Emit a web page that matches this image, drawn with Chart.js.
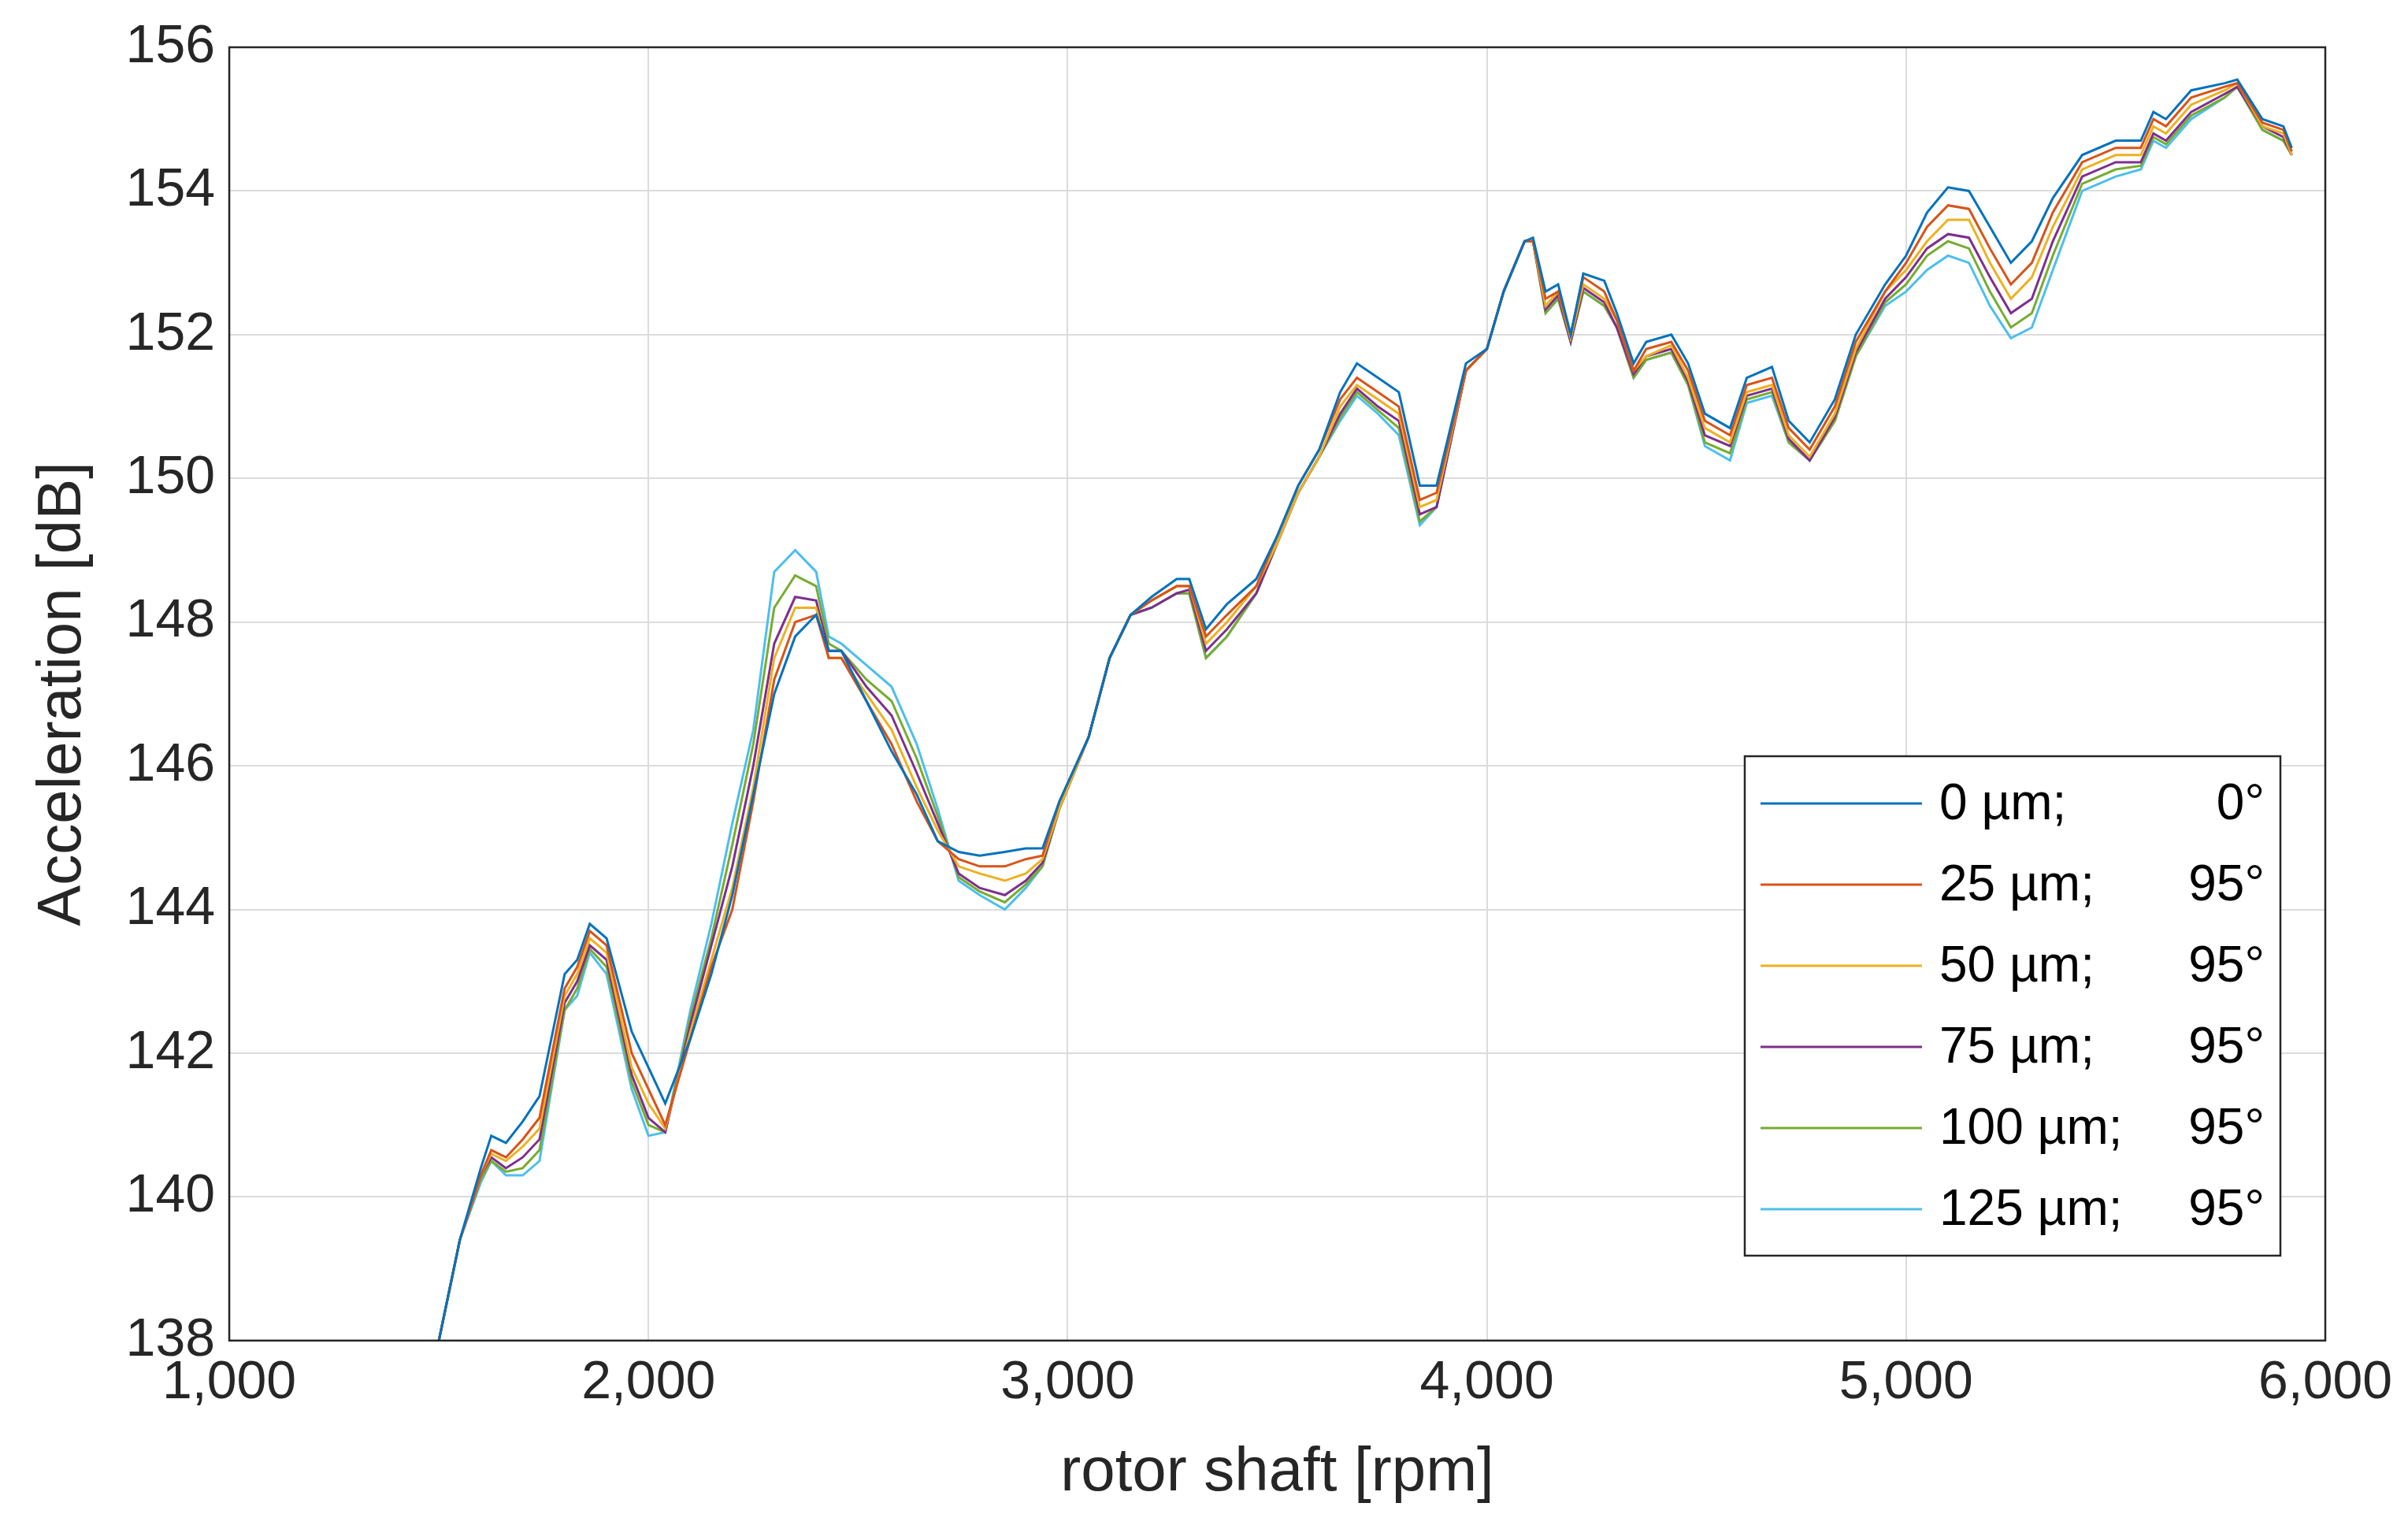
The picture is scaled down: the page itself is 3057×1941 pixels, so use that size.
<!DOCTYPE html>
<html>
<head>
<meta charset="utf-8">
<script src="https://cdn.jsdelivr.net/npm/chart.js@4"></script>
<style>
html,body{margin:0;padding:0;background:#fff}
#wrap{width:3057px;height:1941px}
</style>
</head>
<body>
<div id="wrap"><canvas id="myChart" width="3057" height="1941"></canvas></div>
<script>
// rotor shaft speed [rpm], shared by all series
const rpm = [1500,1550,1600,1625,1660,1700,1740,1800,1830,1860,1900,1960,2000,2040,2100,2150,2200,2250,2300,2350,
  2400,2430,2460,2520,2580,2640,2690,2740,2790,2850,2900,2940,2980,3050,3100,3150,3200,3260,3290,3330,
  3380,3450,3500,3550,3600,3650,3690,3740,3790,3840,3880,3950,4000,4040,4090,4110,4140,4170,4200,4230,
  4280,4310,4350,4380,4440,4480,4520,4580,4620,4680,4720,4770,4830,4880,4950,5000,5050,5100,5150,5200,
  5250,5300,5350,5420,5500,5560,5590,5620,5680,5760,5790,5850,5900,5920]

const labels = ["0 µm;0°","25 µm;95°","50 µm;95°","75 µm;95°","100 µm;95°","125 µm;95°"]
const colors = ["#0072BD","#D95319","#EDB120","#7E2F8E","#77AC30","#4DBEEE"]

const s0 = [138.0,139.4,140.4,140.85,140.75,141.05,141.4,143.1,143.3,143.8,143.6,142.3,141.8,141.3,142.2,143.1,144.2,145.6,147.0,147.8,
  148.1,147.6,147.6,146.9,146.2,145.6,144.95,144.8,144.75,144.8,144.85,144.85,145.5,146.4,147.5,148.1,148.35,148.6,148.6,147.9,
  148.25,148.6,149.2,149.9,150.4,151.2,151.6,151.4,151.2,149.9,149.9,151.6,151.8,152.6,153.3,153.35,152.6,152.7,152.0,152.85,
  152.75,152.3,151.6,151.9,152.0,151.6,150.9,150.7,151.4,151.55,150.8,150.5,151.1,152.0,152.7,153.1,153.7,154.05,154.0,153.5,
  153.0,153.3,153.9,154.5,154.7,154.7,155.1,155.0,155.4,155.5,155.55,155.0,154.9,154.6]
const s25 = [138.0,139.4,140.3,140.65,140.55,140.8,141.1,142.9,143.2,143.7,143.5,142.0,141.5,141.0,142.2,143.2,144.0,145.5,147.2,148.0,
  148.1,147.5,147.5,146.9,146.3,145.5,144.95,144.7,144.6,144.6,144.7,144.75,145.5,146.4,147.5,148.1,148.3,148.5,148.5,147.8,
  148.1,148.5,149.2,149.9,150.4,151.1,151.4,151.2,151.0,149.7,149.8,151.5,151.8,152.6,153.3,153.3,152.5,152.6,152.0,152.8,
  152.6,152.2,151.5,151.8,151.9,151.5,150.8,150.6,151.3,151.4,150.7,150.4,151.0,151.9,152.6,153.0,153.5,153.8,153.75,153.2,
  152.7,153.0,153.7,154.4,154.6,154.6,155.0,154.9,155.3,155.45,155.5,154.95,154.85,154.55]
const s50 = [138.0,139.4,140.3,140.6,140.5,140.7,140.95,142.8,143.1,143.6,143.4,141.8,141.3,140.95,142.3,143.3,144.3,145.7,147.5,148.2,
  148.2,147.5,147.5,147.0,146.5,145.7,145.1,144.6,144.5,144.4,144.5,144.7,145.4,146.4,147.5,148.1,148.3,148.5,148.5,147.7,
  148.0,148.5,149.1,149.8,150.3,151.0,151.3,151.1,150.9,149.6,149.7,151.5,151.8,152.6,153.3,153.3,152.4,152.6,151.95,152.7,
  152.5,152.2,151.5,151.7,151.85,151.4,150.7,150.5,151.2,151.3,150.6,150.3,150.9,151.8,152.6,152.9,153.3,153.6,153.6,153.0,
  152.5,152.8,153.5,154.3,154.5,154.5,154.9,154.8,155.2,155.4,155.5,154.9,154.8,154.5]
const s75 = [138.0,139.4,140.3,140.55,140.4,140.55,140.8,142.7,143.0,143.5,143.3,141.7,141.1,140.9,142.4,143.5,144.6,146.0,147.7,148.35,
  148.3,147.6,147.6,147.1,146.7,145.9,145.2,144.5,144.3,144.2,144.4,144.65,145.4,146.4,147.5,148.1,148.2,148.4,148.45,147.6,
  147.9,148.4,149.1,149.8,150.3,150.9,151.25,151.0,150.8,149.5,149.6,151.5,151.8,152.6,153.3,153.3,152.35,152.55,151.9,152.65,
  152.45,152.1,151.45,151.7,151.8,151.35,150.6,150.45,151.15,151.25,150.55,150.25,150.85,151.75,152.5,152.8,153.2,153.4,153.35,152.8,
  152.3,152.5,153.3,154.2,154.4,154.4,154.8,154.7,155.1,155.35,155.45,154.9,154.75,154.5]
const s100 = [138.0,139.4,140.25,140.5,140.35,140.4,140.65,142.6,142.9,143.45,143.2,141.6,141.0,140.9,142.5,143.6,144.9,146.3,148.2,148.65,
  148.5,147.7,147.6,147.2,146.9,146.1,145.3,144.45,144.25,144.1,144.35,144.6,145.4,146.4,147.5,148.1,148.2,148.4,148.4,147.5,
  147.8,148.4,149.1,149.8,150.3,150.85,151.2,150.95,150.7,149.4,149.6,151.5,151.8,152.6,153.3,153.3,152.3,152.5,151.9,152.6,
  152.4,152.1,151.4,151.65,151.75,151.3,150.5,150.35,151.1,151.2,150.5,150.25,150.8,151.7,152.45,152.7,153.1,153.3,153.2,152.6,
  152.1,152.3,153.1,154.1,154.3,154.35,154.75,154.65,155.05,155.3,155.45,154.85,154.7,154.5]
const s125 = [138.0,139.4,140.2,140.5,140.3,140.3,140.5,142.6,142.8,143.4,143.1,141.5,140.85,140.9,142.6,143.8,145.2,146.5,148.7,149.0,
  148.7,147.8,147.7,147.4,147.1,146.3,145.4,144.4,144.2,144.0,144.3,144.6,145.4,146.4,147.5,148.1,148.2,148.4,148.4,147.5,
  147.8,148.4,149.1,149.8,150.3,150.8,151.15,150.9,150.6,149.35,149.6,151.5,151.8,152.6,153.3,153.3,152.3,152.5,151.9,152.6,
  152.4,152.1,151.4,151.65,151.75,151.3,150.45,150.25,151.05,151.15,150.5,150.25,150.8,151.7,152.4,152.6,152.9,153.1,153.0,152.4,
  151.95,152.1,152.9,154.0,154.2,154.3,154.7,154.6,155.0,155.3,155.45,154.85,154.7,154.5]
const series = [s0,s25,s50,s75,s100,s125]

const FONT = "'Liberation Sans', Arial, sans-serif"

const frameAndLegend = {
  id: 'frameAndLegend',
  afterDraw(chart) {
    const ctx = chart.ctx
    const a = chart.chartArea
    ctx.save()
    ctx.strokeStyle = '#262626'
    ctx.lineWidth = 2.5
    ctx.strokeRect(a.left, a.top, a.right - a.left, a.bottom - a.top)
    // legend box
    const bx = 2215, by = 960, bw = 680, bh = 634
    ctx.fillStyle = '#fff'
    ctx.fillRect(bx, by, bw, bh)
    ctx.strokeStyle = '#262626'
    ctx.lineWidth = 2.5
    ctx.strokeRect(bx, by, bw, bh)
    ctx.font = '64px ' + FONT
    ctx.textBaseline = 'middle'
    chart.data.datasets.forEach((d, k) => {
      const y = by + 60 + k * 103
      ctx.strokeStyle = d.borderColor
      ctx.lineWidth = 3
      ctx.beginPath(); ctx.moveTo(bx + 20, y); ctx.lineTo(bx + 225, y); ctx.stroke()
      const parts = d.label.split(';')
      ctx.fillStyle = '#000'
      ctx.textAlign = 'left'
      ctx.fillText(parts[0] + ';', bx + 247, y + 2)
      ctx.textAlign = 'right'
      ctx.fillText(parts[1], bx + bw - 20, y + 2)
    })
    ctx.restore()
  }
}

const ctx = document.getElementById('myChart')
new Chart(ctx, {
  type: 'line',
  data: {
    datasets: series.map((s, k) => ({
      label: labels[k],
      data: s.map((v, i) => ({x: rpm[i], y: v})),
      borderColor: colors[k],
      backgroundColor: colors[k],
      borderWidth: 3,
      pointRadius: 0,
      tension: 0
    }))
  },
  options: {
    responsive: false,
    animation: false,
    layout: {padding: {top: 60, right: 105, left: 30, bottom: 20}},
    plugins: {legend: {display: false}, tooltip: {enabled: false}},
    scales: {
      x: {
        type: 'linear', min: 1000, max: 6000,
        ticks: {stepSize: 1000, color: '#262626', font: {family: FONT, size: 68}, padding: 14, maxRotation: 0},
        grid: {color: '#dcdcdc', lineWidth: 2, tickLength: 0},
        border: {display: false},
        title: {display: true, text: 'rotor shaft [rpm]', color: '#262626', font: {family: FONT, size: 78}, padding: {top: 12}}
      },
      y: {
        min: 138, max: 156,
        ticks: {stepSize: 2, color: '#262626', font: {family: FONT, size: 68}, padding: 18},
        grid: {color: '#dcdcdc', lineWidth: 2, tickLength: 0},
        border: {display: false},
        title: {display: true, text: 'Acceleration [dB]', color: '#262626', font: {family: FONT, size: 78}, padding: {bottom: 14}}
      }
    }
  },
  plugins: [frameAndLegend]
})
</script>
</body>
</html>
